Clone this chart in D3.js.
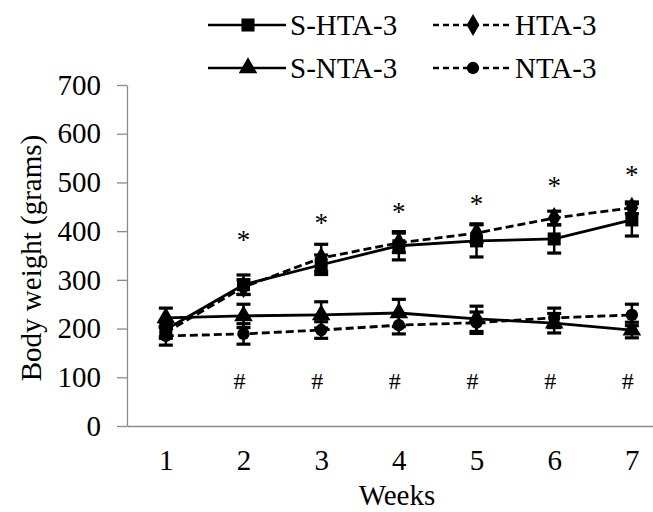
<!DOCTYPE html>
<html>
<head>
<meta charset="utf-8">
<script src="https://cdn.jsdelivr.net/npm/d3@7"></script>
<style>
  body { margin: 0; background: #fff; }
</style>
</head>
<body>
<div id="chart"></div>
<script>
// data
const weeks = [1, 2, 3, 4, 5, 6, 7];
const sHta = [198, 290, 331, 370, 380, 384, 423];
const sHtaErr = [15, 20, 20, 29, 33, 29, 33];
const hta = [192, 285, 345, 376, 396, 427, 448];
const htaErr = [12, 15, 28, 20, 19, 14, 12];
const sNta = [222, 226, 228, 232, 220, 211, 197];
const sNtaErr = [20, 24, 27, 28, 26, 20, 16];
const nta = [185, 189, 197, 207, 212, 222, 228];
const ntaErr = [19, 21, 17, 18, 22, 20, 22];
const yTicks = [0, 100, 200, 300, 400, 500, 600, 700];
const starLevels = [null, 392, 427, 450, 466, 503, 526];
const hashLevels = [null, 94, 94, 94, 94, 94, 94];

const series = [
    {name: "S-HTA-3", values: sHta, err: sHtaErr, dashed: false, symbol: d3.symbolSquare, size: 170},
    {name: "HTA-3", values: hta, err: htaErr, dashed: true, symbol: d3.symbolDiamond, size: 140},
    {name: "S-NTA-3", values: sNta, err: sNtaErr, dashed: false, symbol: d3.symbolTriangle, size: 150},
    {name: "NTA-3", values: nta, err: ntaErr, dashed: true, symbol: d3.symbolCircle, size: 120}
];

const width = 653, height = 512;
const axisColor = "#8a8a8a";
const fontSize = 29;
const serif = '"Liberation Serif"';

const svg = d3.select("#chart").append("svg")
    .attr("width", width).attr("height", height);

const x = d3.scalePoint().domain(weeks).range([127, 670.7]).padding(0.5);
const y = d3.scaleLinear().domain([0, 700]).range([426, 85]);

// === axes ===
const yAxis = svg.append("g").attr("transform", "translate(127,0)")
    .call(d3.axisLeft(y).tickValues(yTicks).tickSize(10).tickSizeOuter(0).tickPadding(16));
yAxis.select(".domain").attr("stroke", axisColor).attr("stroke-width", 1.3);
yAxis.selectAll(".tick line").attr("stroke", axisColor).attr("stroke-width", 1.3);
yAxis.selectAll(".tick text").style("font-size", fontSize + "px");

const xAxis = svg.append("g").attr("transform", "translate(0,426)")
    .call(d3.axisBottom(x).tickSize(0).tickSizeOuter(0).tickPadding(23));
xAxis.select(".domain").attr("stroke", axisColor).attr("stroke-width", 1.3);
xAxis.selectAll(".tick text").style("font-size", fontSize + "px");

svg.append("text")
    .attr("x", 397).attr("y", 505)
    .attr("text-anchor", "middle")
    .style("font-size", fontSize + "px")
    .text("Weeks");

svg.append("text")
    .attr("transform", "translate(41,258) rotate(-90)")
    .attr("text-anchor", "middle")
    .style("font-size", fontSize + "px")
    .text("Body weight (grams)");

// === series ===
const line = d3.line().x((d, i) => x(weeks[i])).y(d => y(d));

series.forEach(s => {
    const g = svg.append("g");
    // error bars
    s.values.forEach((v, i) => {
        const cx = x(weeks[i]);
        g.append("line")
            .attr("x1", cx).attr("x2", cx)
            .attr("y1", y(v - s.err[i])).attr("y2", y(v + s.err[i]))
            .attr("stroke", "#000").attr("stroke-width", 2.5);
        [v - s.err[i], v + s.err[i]].forEach(e => {
            g.append("line")
                .attr("x1", cx - 7).attr("x2", cx + 7)
                .attr("y1", y(e)).attr("y2", y(e))
                .attr("stroke", "#000").attr("stroke-width", 3.2);
        });
    });
    g.append("path").datum(s.values)
        .attr("d", line)
        .attr("fill", "none")
        .attr("stroke", "#000")
        .attr("stroke-width", 2.8)
        .attr("stroke-dasharray", s.dashed ? "8,4" : null);
    g.selectAll(".pt").data(s.values).join("path")
        .attr("class", "pt")
        .attr("transform", (d, i) => `translate(${x(weeks[i])},${y(d)})`)
        .attr("d", d3.symbol().type(s.symbol).size(s.size))
        .attr("fill", "#000");
});

// === significance marks ===
svg.selectAll(".star").data(starLevels.map((v, i) => ({v, w: weeks[i]})).filter(d => d.v !== null))
    .join("text")
    .attr("class", "star")
    .attr("x", d => x(d.w)).attr("y", d => y(d.v) + 14)
    .attr("text-anchor", "middle")
    .style("font-size", "27px")
    .text("*");

svg.selectAll(".hash").data(hashLevels.map((v, i) => ({v, w: weeks[i]})).filter(d => d.v !== null))
    .join("text")
    .attr("class", "hash")
    .attr("x", d => x(d.w) - 4).attr("y", d => y(d.v) + 9)
    .attr("text-anchor", "middle")
    .style("font-size", "24px")
    .text("#");

// === legend ===
const legendCols = [208, 433];
const legendRows = [25, 68];
series.forEach((s, i) => {
    const lx = legendCols[i % 2], ly = legendRows[Math.floor(i / 2)];
    const g = svg.append("g");
    g.append("line")
        .attr("x1", lx).attr("x2", lx + 78)
        .attr("y1", ly).attr("y2", ly)
        .attr("stroke", "#000").attr("stroke-width", 2.6)
        .attr("stroke-dasharray", s.dashed ? "6,4" : null);
    g.append("path")
        .attr("transform", `translate(${lx + 40},${ly})`)
        .attr("d", d3.symbol().type(s.symbol).size(s.size))
        .attr("fill", "#000");
    g.append("text")
        .attr("x", lx + 82).attr("y", ly)
        .attr("dy", "0.35em")
        .style("font-size", fontSize + "px")
        .text(s.name);
});

// serif font on every label, set on the text itself
svg.selectAll("text").style("font-family", serif).attr("fill", "#000");
</script>
</body>
</html>
